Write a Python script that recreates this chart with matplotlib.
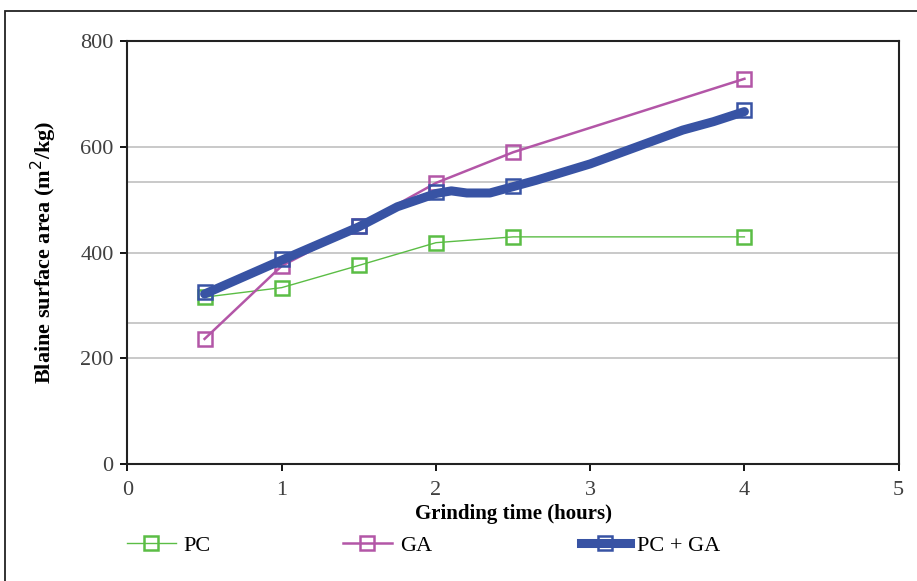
import matplotlib.pyplot as plt
from matplotlib.patches import Rectangle

plt.rcParams['font.family'] = ['Liberation Serif', 'DejaVu Serif']

# data
time_pts = [0.5, 1, 1.5, 2, 2.5, 4]
pc = [316, 334, 376, 419, 430, 430]
ga = [237, 375, 451, 532, 590, 729]
pc_ga = [326, 389, 451, 514, 527, 670]

# smoothed path of the thick PC + GA line
pc_ga_path_x = [0.5, 1, 1.5, 1.75, 2, 2.1, 2.2, 2.35, 2.5, 2.65, 3, 3.3, 3.6, 3.8, 4]
pc_ga_path_y = [322, 386, 449, 487, 512, 517, 513, 513, 525, 537, 568, 600, 632, 648, 667]

grid_vals = [200, 266.7, 400, 533.3, 600]

green = '#5bbd45'
magenta = '#b356a7'
blue = '#3853a4'

fig = plt.figure(figsize=(9.17, 5.81), dpi=100)
ax = fig.add_axes([0.139, 0.201, 0.841, 0.728])

for g in grid_vals:
    ax.axhline(g, color='#c0c0c0', lw=1.2, zorder=0)

ax.plot(time_pts, pc, color=green, lw=1, marker='s', ms=10, mfc='none',
        mec=green, mew=1.8, label='PC', zorder=2)
ax.plot(time_pts, ga, color=magenta, lw=1.8, marker='s', ms=10, mfc='none',
        mec=magenta, mew=1.8, label='GA', zorder=3)
ax.plot(pc_ga_path_x, pc_ga_path_y, color=blue, lw=6.5, solid_capstyle='round',
        solid_joinstyle='round', zorder=4)
ax.plot(time_pts, pc_ga, color=blue, lw=0, marker='s', ms=10, mfc='none',
        mec=blue, mew=1.8, zorder=5)
# legend proxy for the thick line
ax.plot([], [], color=blue, lw=6.5, marker='s', ms=10, mfc='none', mec=blue,
        mew=1.8, label='PC + GA')

ax.set_xlim(0, 5)
ax.set_ylim(0, 800)
ax.set_xticks([0, 1, 2, 3, 4, 5])
ax.set_yticks([0, 200, 400, 600, 800])
ax.tick_params(direction='out', length=5, width=1.3, labelsize=16,
               labelcolor='#404040', pad=5)
ax.tick_params(axis='x', pad=7)
for s in ax.spines.values():
    s.set_linewidth(1.5)
    s.set_color('#222222')

ax.set_xlabel('Grinding time (hours)', fontsize=15, fontweight='bold', labelpad=3)
ax.set_ylabel('Blaine surface area (m$^2$/kg)', fontsize=16, fontweight='bold',
              labelpad=15)

# one legend per entry so the uneven spacing of the original can be kept
handles, labels = ax.get_legend_handles_labels()
for h, l, x0 in zip(handles, labels, [0.1167, 0.3522, 0.6115]):
    fig.legend([h], [l], loc='upper left', bbox_to_anchor=(x0, 0.113),
               frameon=False, fontsize=16, handlelength=2.2,
               handletextpad=0.35)

fig.patches.append(Rectangle((5 / 917, -0.05), 1.2, 1 - 11 / 581 + 0.05,
                             transform=fig.transFigure, fill=False,
                             edgecolor='#222222', lw=1.3))

fig.savefig('out.png', dpi=100)
